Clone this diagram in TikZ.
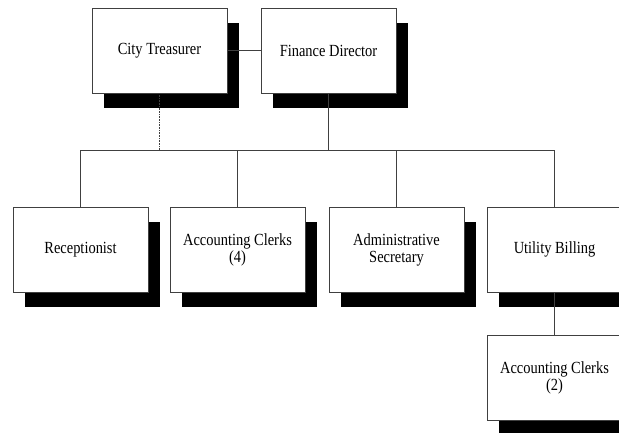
\documentclass[tikz,border=0pt]{standalone}
\usepackage{fontspec}
\setmainfont[FakeStretch=0.85]{Liberation Serif}
\usetikzlibrary{shadows}

\begin{document}
\begin{tikzpicture}[x=1pt, y=-1pt,
    font=\fontsize{17}{17}\selectfont,
    every node/.style={align=center},
    post/.style={draw=black!75, line width=0.6pt, fill=white,
      minimum width=135pt, minimum height=85pt, inner sep=2pt,
      drop shadow={shadow xshift=12pt, shadow yshift=-15pt,
        fill=black, opacity=1}},
    link/.style={draw=black!75, line width=0.6pt}]
  \useasboundingbox (0,0) rectangle (619,433);
  \clip (0,0) rectangle (619,433);

  % top level
  \node[post] (treas) at (159.5,50.5) {City Treasurer};
  \node[post] (fin) at (328.5,50.5) {Finance Director};

  % staff row
  \node[post] (recep) at (80.5,249.5) {Receptionist};
  \node[post] (clerks) at (237.5,249.5) {Accounting Clerks\\(4)};
  \node[post] (secr) at (396.5,249.5) {Administrative\\Secretary};
  \node[post] (util) at (554.5,249.5) {Utility Billing};

  % under utility billing
  \node[post] (uclerks) at (554.5,378) {Accounting Clerks\\(2)};

  \coordinate (bus) at (0,150);

  \draw[link] (treas.east) -- (fin.west);
  \draw[link] (fin.south) -- (fin.south |- bus);
  \draw[link, densely dotted] (treas.south) -- (treas.south |- bus);
  \draw[link] (recep.north) |- (bus -| util.north) -- (util.north);
  \draw[link] (clerks.north) -- (clerks.north |- bus);
  \draw[link] (secr.north) -- (secr.north |- bus);
  \draw[link] (util.south) -- (uclerks.north);
\end{tikzpicture}
\end{document}
